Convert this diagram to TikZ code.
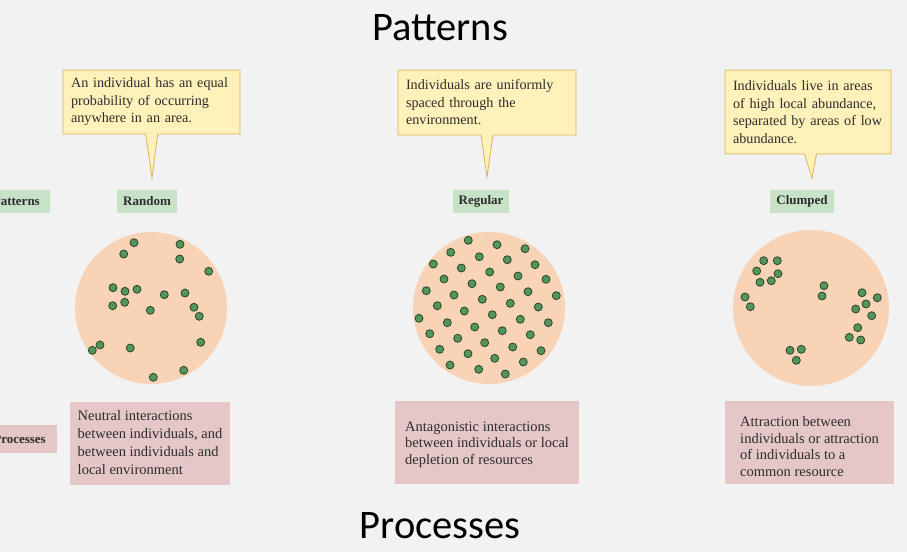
\documentclass[tikz,border=0pt]{standalone}
\usepackage{fontspec}
\setmainfont{Liberation Serif}
\newfontfamily\titlefont{Carlito}
\usetikzlibrary{shapes.callouts}

\definecolor{bggray}{RGB}{242,242,242}
\definecolor{textgray}{RGB}{45,45,45}
\definecolor{calloutfill}{RGB}{255,241,186}
\definecolor{calloutline}{RGB}{222,178,88}
\definecolor{labelgreen}{RGB}{200,226,200}
\definecolor{causepink}{RGB}{230,199,199}
\definecolor{peach}{RGB}{249,211,181}
\definecolor{dotgreen}{RGB}{82,150,92}
\definecolor{dotline}{RGB}{44,68,44}

\begin{document}
\begin{tikzpicture}[x=1pt,y=-1pt,
  note/.style={rectangle callout, draw=calloutline, fill=calloutfill, line width=0.8pt,
    callout pointer width=12pt, inner xsep=8pt, align=left, text=textgray,
    font=\fontsize{14.2}{17.5}\selectfont},
  kind/.style={fill=labelgreen, text=textgray, inner xsep=6pt, minimum height=23pt,
    font=\bfseries\fontsize{13}{15}\selectfont},
  cause/.style={fill=causepink, text=textgray, minimum height=83pt, align=left, inner xsep=4pt,
    font=\fontsize{14.5}{18}\selectfont},
  area/.style={circle, fill=peach, inner sep=0pt},
  ind/.style={circle, fill=dotgreen, draw=dotline, line width=0.8pt, minimum size=8pt, inner sep=0pt}]

\fill[bggray] (0,0) rectangle (907,552);
\clip (0,0) rectangle (907,552);

% titles
\node[font=\titlefont\fontsize{40.5}{48}\selectfont] (ptitle) at (440,28) {Patterns};
\node[font=\titlefont\fontsize{40.5}{48}\selectfont] (ctitle) at (440,526) {Processes};

% row labels, cut at the left edge
\node[kind, anchor=east, inner xsep=10pt] (patternsrow) at (50,201) {Patterns};
\node[kind, fill=causepink, anchor=east, inner xsep=11pt, minimum height=28pt] (processesrow) at (57,439) {Processes};

% pattern names
\node[kind] (random) at (147,201) {Random};
\node[kind] (regular) at (481,201) {Regular};
\node[kind] (clumped) at (802,201) {Clumped};

% callouts
\coordinate (randomtip) at (152,178);
\coordinate (regulartip) at (487,177);
\coordinate (clumpedtip) at (812,178);
\node[note, text width=161pt, minimum height=64pt, callout absolute pointer={(randomtip)}]
  (randomnote) at (151.5,102) {An individual has an equal\\probability of occurring\\anywhere in an area.};
\node[note, text width=162pt, minimum height=65pt, callout absolute pointer={(regulartip)}]
  (regularnote) at (487,102.5) {Individuals are uniformly\\spaced through the\\environment.};
\node[note, text width=150pt, minimum height=84pt, callout absolute pointer={(clumpedtip)}]
  (clumpednote) at (808,112) {Individuals live in areas\\of high local abundance,\\separated by areas of low\\abundance.};

% areas
\node[area, minimum size=152pt] (randomarea) at (151,308) {};
\node[area, minimum size=152pt] (regulararea) at (489,308) {};
\node[area, minimum size=156pt] (clumpedarea) at (811,308) {};

% individuals
\foreach \x/\y [count=\i] in {134/242.7, 180/244.3, 123.7/254, 179.7/259, 208.7/271.3,
    113/287.7, 125/291.3, 137/289.3, 164.3/294.7, 185/293, 112.7/305.7, 124.7/302.3,
    150.3/310.3, 194/307.3, 199.3/316.3, 200.7/342.3, 100/345, 92.3/350.3, 130.3/348,
    183.7/370.3, 153.3/377.3}
  \node[ind] (r\i) at (\x,\y) {};
\foreach \x/\y [count=\i] in {468.3/240.3, 497/244.7, 525/248.7, 450.7/252.3, 479.3/256.7,
    507.3/259.7, 433.3/264, 461.3/268, 489.7/272, 535/264.7, 518/276, 444/279,
    472/283.7, 500.3/287, 546/279.3, 528/291.7, 426.3/290.7, 454/295, 482.3/299.3,
    510.3/303.3, 556.3/295.7, 437.3/305.7, 464.3/311, 492.3/314.7, 538.3/307,
    520.3/319.3, 419/318.3, 447.3/322.7, 474.7/327, 502.3/330.7, 548.3/322.7,
    530.3/334.7, 429.7/333.7, 457.7/338.3, 484.7/342.7, 512.7/347, 541/350.7,
    439.7/349.3, 468/353.7, 494.7/358.3, 523.3/362, 450/365, 478.7/369.3, 505.3/374}
  \node[ind] (g\i) at (\x,\y) {};
\foreach \x/\y [count=\i] in {763.7/260.7, 777.3/260.7, 756.7/271, 778/273.7, 760/282.3,
    771.3/280.7, 745/297, 750.3/306.7, 824/285.7, 822/296, 862/292.7, 877.3/297.7,
    866/304, 855.7/309, 871.7/315.7, 857.7/327.7, 849.3/337.3, 860.7/340, 790/350.3,
    801.3/349.3, 796.3/360.3}
  \node[ind] (c\i) at (\x,\y) {};

% processes
\node[cause, minimum width=160pt] (neutral) at (150,443)
  {Neutral interactions\\between individuals, and\\between individuals and\\local environment};
\node[cause, minimum width=184pt, font=\fontsize{14.5}{16.5}\selectfont] (antagonistic) at (487,442.5)
  {\rule{0pt}{14pt}Antagonistic interactions\\between individuals or local\\depletion of resources};
\node[cause, minimum width=169pt, font=\fontsize{14.5}{16.5}\selectfont] (attraction) at (809.5,442.5)
  {\rule{0pt}{18pt}Attraction between\\individuals or attraction\\of individuals to a\\common resource};
\end{tikzpicture}
\end{document}
